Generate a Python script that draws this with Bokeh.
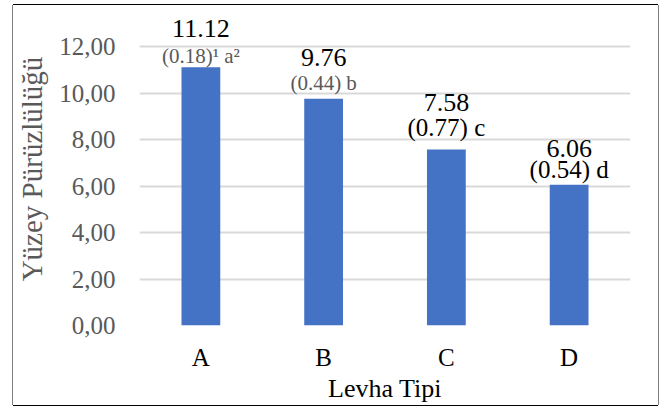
from bokeh.plotting import figure
from bokeh.models import ColumnDataSource, FactorRange, Range1d, FixedTicker
from bokeh.core.properties import value
from bokeh.embed import file_html
from bokeh.resources import INLINE

# Surface roughness by board type: mean, standard deviation and Duncan group
levha = ["A", "B", "C", "D"]
ortalama = [11.12, 9.76, 7.58, 6.06]
std_sapma = [0.18, 0.44, 0.77, 0.54]
grup = ["a", "b", "c", "d"]
dipnot_sd = ["\u00b9", "", "", ""]
dipnot_grup = ["\u00b2", "", "", ""]

y_ticks = [0, 2, 4, 6, 8, 10, 12]
y_tick_labels = ["0,00", "2,00", "4,00", "6,00", "8,00", "10,00", "12,00"]

# label styling per bar
sd_colors = ["#595959", "#595959", "#000000", "#000000"]
sd_sizes = ["21px", "21px", "25px", "25px"]
value_lift = [-39, -41, -47, -36]
sd_lift = [-11, -16, -22, -15]

FONT = "Liberation Serif"
BAR = "#4472C4"
GRID = "#D9D9D9"

src = ColumnDataSource(dict(
    levha=levha,
    ortalama=ortalama,
    deger=[f"{v:.2f}" for v in ortalama],
    sd=[f"({s:.2f}){n} {g}{m}" for s, n, g, m in zip(std_sapma, dipnot_sd, grup, dipnot_grup)],
    sd_color=sd_colors,
    sd_size=sd_sizes,
    value_lift=value_lift,
    sd_lift=sd_lift,
))

p = figure(
    width=645, height=400,
    x_range=FactorRange(*levha),
    y_range=Range1d(0, 13.475),
    output_backend="svg", toolbar_location=None, tools="",
    min_border_left=123, min_border_right=28,
    min_border_top=7, min_border_bottom=77,
)
# chart area border: dark top/bottom edges, grey side edges
p.margin = (5, 0, 0, 13)
p.styles = {"box-shadow": "0 -1px 0 #000000, 0 1px 0 #000000, "
                          "-1px 0 0 #808080, 1px 0 0 #808080"}
p.outline_line_color = None
p.background_fill_color = "white"
p.border_fill_color = "white"

p.vbar(x="levha", top="ortalama", width=0.316, source=src,
       fill_color=BAR, line_color=None)

p.text(x="levha", y="ortalama", text="deger", source=src,
       y_offset="value_lift", text_align="center", text_baseline="alphabetic",
       text_font=value(FONT), text_font_size="26px", text_color="#000000")
p.text(x="levha", y="ortalama", text="sd", source=src,
       y_offset="sd_lift", text_align="center", text_baseline="alphabetic",
       text_font=value(FONT), text_font_size="sd_size", text_color="sd_color")

# y axis
p.yaxis.ticker = FixedTicker(ticks=y_ticks)
p.yaxis.major_label_overrides = {t: lab for t, lab in zip(y_ticks, y_tick_labels)}
p.yaxis.axis_line_color = None
p.yaxis.major_tick_line_color = None
p.yaxis.minor_tick_line_color = None
p.yaxis.major_tick_in = 0
p.yaxis.major_tick_out = 0
p.yaxis.major_label_standoff = 24
p.yaxis.major_label_text_font = FONT
p.yaxis.major_label_text_font_size = "25px"
p.yaxis.major_label_text_color = "#595959"
p.yaxis.axis_label = "Yüzey Pürüzlülüğü"
p.yaxis.axis_label_text_font = FONT
p.yaxis.axis_label_text_font_size = "29px"
p.yaxis.axis_label_text_font_style = "normal"
p.yaxis.axis_label_text_color = "#595959"
p.yaxis.axis_label_standoff = 8

# x axis
p.xaxis.axis_line_color = None
p.xaxis.major_tick_line_color = None
p.xaxis.minor_tick_line_color = None
p.xaxis.major_tick_in = 0
p.xaxis.major_tick_out = 0
p.xaxis.major_label_standoff = 18
p.xaxis.major_label_text_font = FONT
p.xaxis.major_label_text_font_size = "25px"
p.xaxis.major_label_text_color = "#000000"
p.xaxis.axis_label = "Levha Tipi"
p.xaxis.axis_label_text_font = FONT
p.xaxis.axis_label_text_font_size = "26px"
p.xaxis.axis_label_text_font_style = "normal"
p.xaxis.axis_label_text_color = "#000000"
p.xaxis.axis_label_standoff = 0

p.xgrid.grid_line_color = None
p.ygrid.ticker = FixedTicker(ticks=y_ticks)
p.ygrid.grid_line_color = GRID
p.ygrid.grid_line_width = 2

open("out.html", "w").write(file_html(p, INLINE))
